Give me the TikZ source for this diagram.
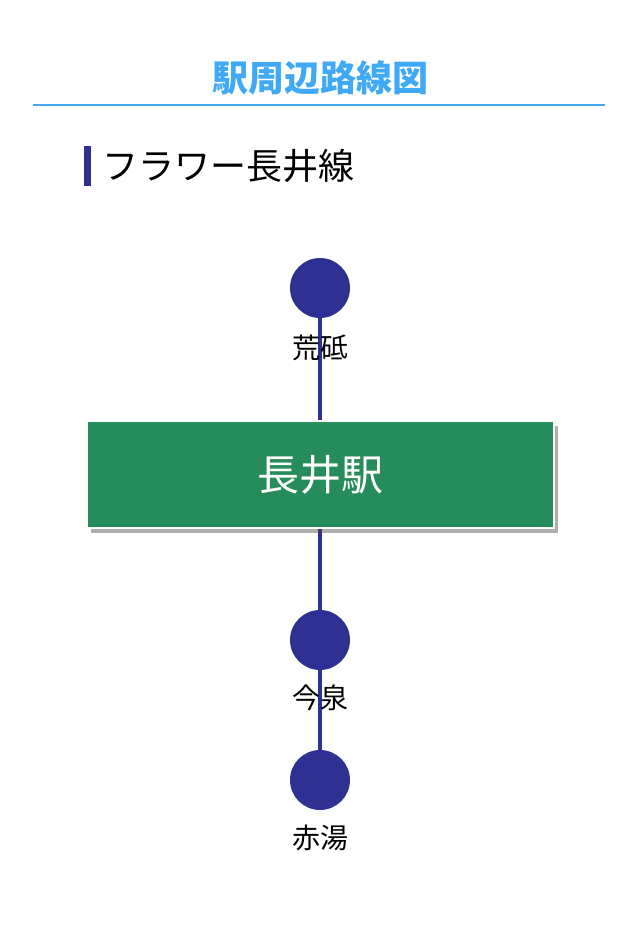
\documentclass[tikz,border=0pt]{standalone}
\usepackage{fontspec}
\newfontfamily\jpfont{Noto Sans CJK JP}
\usepackage{tikz}
\usetikzlibrary{positioning,shadows}
\definecolor{titleblue}{HTML}{3FA9F5}
\definecolor{linenavy}{HTML}{2E3192}
\definecolor{stationgreen}{HTML}{278C5B}
\pgfdeclarelayer{bg}
\pgfsetlayers{bg,main}
\tikzset{
	stop/.style={circle, fill=linenavy, minimum size=60pt, inner sep=0pt},
	stoplabel/.style={inner sep=0pt, font=\jpfont\fontsize{28}{32}\selectfont},
	route/.style={linenavy, line width=4pt}
}

\begin{document}
\begin{tikzpicture}[x=1pt,y=-1pt]
				\useasboundingbox (0,0) rectangle (640,934);
				%%%header
				\node at (320,78) (T){\jpfont\bfseries\fontsize{36}{42}\selectfont\color{titleblue}駅周辺路線図};
				\coordinate (RL) at (33,105);
				\coordinate (RR) at (605,105);
				\draw[titleblue, line width=2pt] (RL) -- (RR);
				%line name
				\node[fill=linenavy, minimum width=7pt, minimum height=40pt, inner sep=0pt] at (87.5,166) (B){};
				\node[right=11pt of B, inner sep=0pt] (L){\jpfont\fontsize{36}{42}\selectfont フラワー長井線};
				%%%stations
				\node[stop] at (320,288) (S1){};
				\node[stoplabel] at (320,348) (S1L){荒砥};
				\node[fill=stationgreen, draw=white, line width=2pt, minimum width=467pt, minimum height=107pt,
					drop shadow={shadow xshift=4pt, shadow yshift=-5pt, opacity=0.45, fill=black!70}] at (320,474.5) (N){\jpfont\fontsize{42}{48}\selectfont\color{white}長井駅};
				\node[stop] at (320,640) (S2){};
				\node[stoplabel] at (320,698) (S2L){今泉};
				\node[stop] at (320,780) (S3){};
				\node[stoplabel] at (320,838) (S3L){赤湯};
				%%%links
				\begin{pgfonlayer}{bg}
				\draw[route] (S1) -- (N);
				\draw[route] (N) -- (S2);
				\draw[route] (S2) -- (S3);
				\end{pgfonlayer}
			\end{tikzpicture}
\end{document}
